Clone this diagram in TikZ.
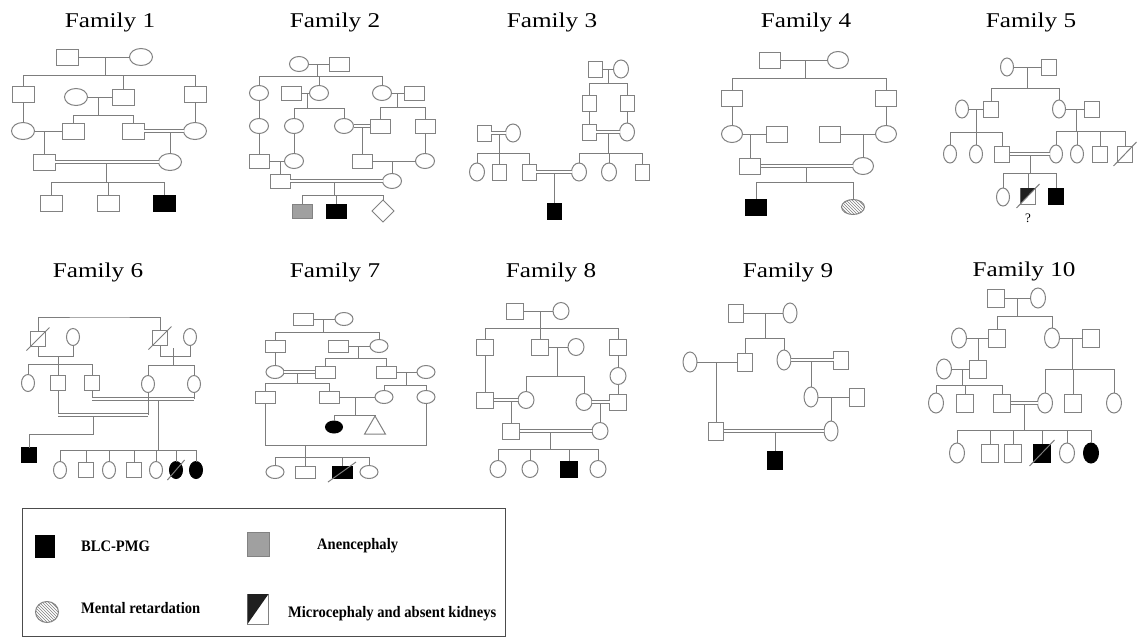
\documentclass[tikz,border=0pt]{standalone}
\usepackage{fontspec}
\setmainfont{Liberation Serif}
\newfontfamily\titlefont[FakeStretch=1.2]{Liberation Serif}
\newfontfamily\legfont[FakeStretch=0.91]{Liberation Serif}
\usetikzlibrary{shapes.geometric,patterns,calc}
\definecolor{lc}{RGB}{125,125,125}
\definecolor{sc}{RGB}{130,130,130}
\definecolor{gf}{RGB}{160,160,160}
\tikzset{
 ln/.style={draw=lc, line width=1pt},
 dbl/.style={draw=lc, double=white, double distance=2pt, line width=0.8pt},
 sym/.style={draw=sc, line width=1pt, inner sep=0pt, outer sep=0pt, fill=white},
 msz/.style={minimum width=22pt, minimum height=16pt},
 fsz/.style={minimum width=23pt, minimum height=17pt},
 M/.style={sym, rectangle, msz},
 F/.style={sym, ellipse, fsz},
 aff/.style={fill=black, draw=black},
 hat/.style={pattern=north west lines, pattern color=gray},
 ttl/.style={font=\titlefont\fontsize{21}{25}\selectfont, anchor=base, inner sep=0pt},
 lgt/.style={font=\legfont\bfseries\fontsize{16}{19}\selectfont, anchor=west, inner sep=0pt},
}
\newcommand\sib[3]{%
 \coordinate (#1j) at (#1 |- 0,#2);
 \draw[ln] (#1) -- (#1j);
 \foreach \chd in {#3}{\draw[ln] (\chd) |- (#1j);}
}
\newcommand\dec[1]{\draw[ln] ($(#1.south west)+(-4,4)$) -- ($(#1.north east)+(4,-4)$);}
\newcommand\half[1]{\fill[black!88] (#1.north west) -- (#1.north east) -- (#1.south west) -- cycle;}
\begin{document}
\begin{tikzpicture}[x=1pt,y=-1pt]
\useasboundingbox (0,0) rectangle (1137,638);
\fill[white] (0,0) rectangle (1137,638);
% titles
\node[ttl] (t1) at (110,27) {Family 1};
\node[ttl] (t2) at (335,27) {Family 2};
\node[ttl] (t3) at (552,27) {Family 3};
\node[ttl] (t4) at (806,27) {Family 4};
\node[ttl] (t5) at (1031,27) {Family 5};
\node[ttl] (t6) at (98,277) {Family 6};
\node[ttl] (t7) at (335,277) {Family 7};
\node[ttl] (t8) at (551,277) {Family 8};
\node[ttl] (t9) at (788,277) {Family 9};
\node[ttl] (t10) at (1024,276) {Family 10};

% ---------- Family 1
\begin{scope}[msz/.style={minimum width=22pt,minimum height=16pt}, fsz/.style={minimum width=23pt,minimum height=17pt}]
\node[M] (a1) at (67,57) {};
\node[F] (b1) at (141,57) {};
\node[M] (c1) at (23,94) {};
\node[M] (d1) at (123,97) {};
\node[M] (e1) at (195,94) {};
\node[F] (f1) at (76,97) {};
\node[M] (g1) at (73,131) {};
\node[M] (h1) at (133,131) {};
\node[F] (i1) at (23,131) {};
\node[F] (j1) at (195,131) {};
\node[M] (k1) at (44,162) {};
\node[F] (l1) at (170,162) {};
\node[M] (n11) at (51,203) {};
\node[M] (n12) at (108,203) {};
\node[M,aff] (n13) at (164,203) {};
\draw[ln] (a1) -- (b1);
\coordinate (m1a) at (105,57); \sib{m1a}{75}{c1,d1,e1}
\draw[ln] (f1) -- (d1);
\coordinate (m1b) at (98,97); \sib{m1b}{115}{g1,h1}
\draw[ln] (c1) -- (i1);
\draw[ln] (e1) -- (j1);
\draw[ln] (i1) -- (g1);
\coordinate (m1c) at (44,131); \draw[ln] (m1c) -- (k1);
\coordinate (m1d) at (170,131); \draw[ln] (m1d) -- (l1);
\coordinate (m1e) at (106,162); \sib{m1e}{182}{n11,n12,n13}
\draw[dbl] (h1) -- (j1);
\draw[dbl] (k1) -- (l1);
\end{scope}

% ---------- Family 2
\begin{scope}[msz/.style={minimum width=20pt,minimum height=14pt}, fsz/.style={minimum width=19pt,minimum height=15pt}]
\node[F] (a2) at (299,64) {};
\node[M] (b2) at (339,64) {};
\node[F] (c2) at (259,93) {};
\node[M] (d2) at (291,93) {};
\node[F] (e2) at (319,93) {};
\node[F] (f2) at (382,93) {};
\node[M] (g2) at (414,93) {};
\node[F] (h2) at (259,126) {};
\node[F] (i2) at (294,126) {};
\node[F] (j2) at (344,126) {};
\node[M] (k2) at (380,126) {};
\node[M] (l2) at (425,126) {};
\node[M] (p2) at (259,161) {};
\node[F] (q2) at (294,161) {};
\node[M] (r2) at (362,161) {};
\node[F] (s2) at (425,161) {};
\node[M] (t2) at (280,181) {};
\node[F] (u2) at (392,181) {};
\node[M,fill=gf] (v2) at (302,211) {};
\node[M,aff] (w2) at (336,211) {};
\node[sym,diamond,minimum width=22pt,minimum height=22pt] (x2) at (383,211) {};
\draw[ln] (a2) -- (b2);
\coordinate (m2a) at (317,64); \sib{m2a}{76}{c2,e2,f2}
\draw[ln] (d2) -- (e2);
\coordinate (m2b) at (307,93); \sib{m2b}{108}{i2,j2}
\draw[ln] (f2) -- (g2);
\coordinate (m2c) at (397,93); \sib{m2c}{107}{k2,l2}
\draw[ln] (c2) -- (h2); \draw[ln] (h2) -- (p2); \draw[ln] (i2) -- (q2); \draw[ln] (l2) -- (s2);
\draw[ln] (p2) -- (q2); \coordinate (m2d) at (280,161); \draw[ln] (m2d) -- (t2);
\coordinate (m2e) at (362,126); \draw[ln] (m2e) -- (r2);
\draw[ln] (r2) -- (s2); \coordinate (m2f) at (392,161); \draw[ln] (m2f) -- (u2);
\coordinate (m2g) at (334,181); \sib{m2g}{195}{v2,w2,x2}
\draw[dbl] (j2) -- (k2);
\draw[dbl] (t2) -- (u2);
\end{scope}

% ---------- Family 3
\begin{scope}[msz/.style={minimum width=14pt,minimum height=16pt}, fsz/.style={minimum width=15pt,minimum height=18pt}]
\node[M] (a3) at (595,69) {};
\node[F] (b3) at (621,69) {};
\node[M] (c3) at (589,103) {};
\node[M] (d3) at (627,103) {};
\node[M] (e3) at (589,132) {};
\node[F] (f3) at (627,132) {};
\node[F] (g3) at (579,172) {};
\node[F] (h3) at (609,172) {};
\node[M] (i3) at (642,172) {};
\node[M] (j3) at (484,133) {};
\node[F] (k3) at (513,133) {};
\node[F] (l3) at (477,172) {};
\node[M] (n3) at (499,172) {};
\node[M] (o3) at (529,172) {};
\node[M,aff] (p3) at (554,211) {};
\draw[ln] (a3) -- (b3); \coordinate (m3a) at (608,69); \sib{m3a}{83}{c3,d3}
\draw[ln] (c3) -- (e3); \draw[ln] (d3) -- (f3);
\coordinate (m3b) at (608,132); \sib{m3b}{153}{g3,h3,i3}
\coordinate (m3c) at (499,133); \sib{m3c}{153}{l3,n3,o3}
\coordinate (m3d) at (554,172); \draw[ln] (m3d) -- (p3);
\draw[dbl] (e3) -- (f3);
\draw[dbl] (j3) -- (k3);
\draw[dbl] (o3) -- (g3);
\end{scope}

% ---------- Family 4
\begin{scope}[msz/.style={minimum width=21pt,minimum height=16pt}, fsz/.style={minimum width=21pt,minimum height=17pt}]
\node[M] (a4) at (770,60) {};
\node[F] (b4) at (838,60) {};
\node[M] (c4) at (732,98) {};
\node[M] (d4) at (886,98) {};
\node[F] (e4) at (732,134) {};
\node[M] (f4) at (777,134) {};
\node[M] (g4) at (830,134) {};
\node[F] (h4) at (886,134) {};
\node[M] (i4) at (750,166) {};
\node[F] (j4) at (863,166) {};
\node[M,aff] (k4) at (756,207) {};
\node[sym,ellipse,hat,minimum width=23pt,minimum height=15pt] (l4) at (853,207) {};
\draw[ln] (a4) -- (b4); \coordinate (m4a) at (805,60); \sib{m4a}{78}{c4,d4}
\draw[ln] (c4) -- (e4); \draw[ln] (d4) -- (h4);
\draw[ln] (e4) -- (f4); \coordinate (m4b) at (750,134); \draw[ln] (m4b) -- (i4);
\draw[ln] (g4) -- (h4); \coordinate (m4c) at (863,134); \draw[ln] (m4c) -- (j4);
\coordinate (m4d) at (806,166); \sib{m4d}{182}{k4,l4}
\draw[dbl] (i4) -- (j4);
\end{scope}

% ---------- Family 5
\begin{scope}[msz/.style={minimum width=15pt,minimum height=16pt}, fsz/.style={minimum width=13pt,minimum height=18pt}]
\node[F] (a5) at (1007,67) {};
\node[M] (b5) at (1049,67) {};
\node[F] (c5) at (962,109) {};
\node[M] (d5) at (991,109) {};
\node[F] (e5) at (1059,109) {};
\node[M] (f5) at (1092,109) {};
\node[F] (g5) at (950,154) {};
\node[F] (h5) at (976,154) {};
\node[M] (i5) at (1002,154) {};
\node[F] (j5) at (1056,154) {};
\node[F] (k5) at (1077,154) {};
\node[M] (l5) at (1100,154) {};
\node[M] (n5) at (1125,154) {};
\node[F] (o5) at (1003,197) {};
\node[M] (p5) at (1028,196) {};
\node[M,aff] (q5) at (1056,196) {};
\node[font=\fontsize{13}{15}\selectfont, inner sep=0pt] (qm5) at (1028,218) {?};
\draw[ln] (a5) -- (b5); \coordinate (m5a) at (1027,67); \sib{m5a}{88}{d5,e5}
\draw[ln] (c5) -- (d5); \coordinate (m5b) at (976,109); \sib{m5b}{132}{g5,h5,i5}
\draw[ln] (e5) -- (f5); \coordinate (m5c) at (1076,109); \sib{m5c}{131}{j5,k5,l5,n5}
\coordinate (m5d) at (1030,154); \sib{m5d}{173}{o5,p5,q5}
\draw[dbl] (i5) -- (j5);
\dec{n5}
\half{p5}
\dec{p5}
\end{scope}

% ---------- Family 6
\begin{scope}[msz/.style={minimum width=15pt,minimum height=15pt}, fsz/.style={minimum width=13pt,minimum height=17pt}]
\node[M] (a6) at (38,339) {};
\node[F] (b6) at (73,337) {};
\node[M] (c6) at (160,338) {};
\node[F] (d6) at (190,337) {};
\node[F] (e6) at (28,383) {};
\node[M] (f6) at (58,383) {};
\node[M] (g6) at (92,383) {};
\node[F] (h6) at (148,384) {};
\node[F] (i6) at (194,384) {};
\node[M,aff] (j6) at (29,455) {};
\node[F] (k6) at (60,470) {};
\node[M] (l6) at (86,470) {};
\node[F] (n6) at (109,470) {};
\node[M] (o6) at (134,470) {};
\node[F] (p6) at (156,470) {};
\node[F,aff] (q6) at (176,470) {};
\node[F,aff] (r6) at (196,470) {};
\coordinate (tt6) at (100,317); \draw[ln] (a6) |- (tt6) -| (c6);
\coordinate (u6) at (58,356); \draw[ln] (a6) |- (u6); \draw[ln] (b6) |- (u6); \sib{u6}{364}{e6,f6,g6}
\coordinate (v6) at (173,356); \draw[ln] (c6) |- (v6); \draw[ln] (d6) |- (v6);
\coordinate (v6t) at (173,348); \draw[ln] (v6t) -- (v6); \sib{v6}{365}{h6,i6}
\coordinate (w6l) at (58,415); \coordinate (w6r) at (148,415);
\coordinate (w6) at (93,415); \coordinate (w6b) at (93,434);
\draw[ln] (f6) -- (w6l);
\draw[ln] (w6) -- (w6b) -| (j6);
\coordinate (x6l) at (92,399); \coordinate (x6r) at (194,399); \coordinate (x6) at (158,399);
\draw[ln] (g6) -- (x6l); \draw[ln] (i6) -- (x6r);
\sib{x6}{450}{k6,l6,n6,o6,p6,q6,r6}
\draw[dbl] (w6l) -- (w6r);
\draw[dbl] (x6l) -- (x6r);
\draw[ln] (h6) -- (w6r);
\dec{a6} \dec{c6} \dec{q6}
\end{scope}

% ---------- Family 7
\begin{scope}[msz/.style={minimum width=20pt,minimum height=12pt}, fsz/.style={minimum width=18pt,minimum height=13pt}]
\node[M] (a7) at (303,319) {};
\node[F] (b7) at (344,319) {};
\node[M] (c7) at (275,346) {};
\node[M] (d7) at (338,346) {};
\node[F] (e7) at (379,346) {};
\node[F] (f7) at (275,372) {};
\node[M] (g7) at (325,372) {};
\node[M] (h7) at (386,372) {};
\node[F] (i7) at (426,372) {};
\node[M] (j7) at (265,397) {};
\node[M] (k7) at (329,397) {};
\node[F] (l7) at (384,397) {};
\node[F] (n7) at (426,397) {};
\node[F,aff,minimum width=17pt,minimum height=12pt] (o7) at (334,427) {};
\node[sym,regular polygon,regular polygon sides=3,minimum size=24pt] (p7) at (375,428) {};
\node[F] (q7) at (275,472) {};
\node[M] (r7) at (305,472) {};
\node[M,aff] (s7) at (342,472) {};
\node[F] (t7) at (369,472) {};
\draw[ln] (a7) -- (b7); \coordinate (m7a) at (323,319); \sib{m7a}{332}{c7,e7}
\draw[ln] (d7) -- (e7); \coordinate (m7b) at (358,346); \sib{m7b}{358}{g7,h7}
\draw[ln] (c7) -- (f7);
\coordinate (m7c) at (297,372); \sib{m7c}{383}{j7,k7}
\draw[ln] (h7) -- (i7); \coordinate (m7d) at (406,372); \sib{m7d}{385}{l7,n7}
\draw[ln] (k7) -- (l7); \coordinate (m7e) at (355,397); \sib{m7e}{415}{o7,p7}
\coordinate (z7) at (305,445); \draw[ln] (j7) |- (z7); \draw[ln] (n7) |- (z7);
\sib{z7}{457}{q7,r7,s7,t7}
\draw[dbl] (f7) -- (g7);
\dec{s7}
\end{scope}

% ---------- Family 8
\begin{scope}[msz/.style={minimum width=17pt,minimum height=16pt}, fsz/.style={minimum width=16pt,minimum height=17pt}]
\node[M] (a8) at (515,311) {};
\node[F] (b8) at (561,311) {};
\node[M] (c8) at (485,347) {};
\node[M] (d8) at (540,347) {};
\node[F] (e8) at (576,347) {};
\node[M] (f8) at (618,347) {};
\node[F] (g8) at (618,376) {};
\node[M] (h8) at (485,400) {};
\node[F] (i8) at (526,400) {};
\node[F] (j8) at (584,402) {};
\node[M] (k8) at (618,402) {};
\node[M] (l8) at (511,431) {};
\node[F] (n8) at (600,431) {};
\node[F] (o8) at (498,469) {};
\node[F] (p8) at (530,469) {};
\node[M,aff] (q8) at (569,469) {};
\node[F] (r8) at (598,469) {};
\draw[ln] (a8) -- (b8); \coordinate (m8a) at (540,311); \sib{m8a}{328}{c8,d8,f8}
\draw[ln] (d8) -- (e8); \coordinate (m8b) at (557,347); \sib{m8b}{376}{i8,j8}
\draw[ln] (c8) -- (h8); \draw[ln] (f8) -- (g8); \draw[ln] (g8) -- (k8);
\coordinate (m8c) at (511,400); \draw[ln] (m8c) -- (l8);
\coordinate (m8d) at (600,402); \draw[ln] (m8d) -- (n8);
\coordinate (m8e) at (550,431); \sib{m8e}{449}{o8,p8,q8,r8}
\draw[dbl] (h8) -- (i8);
\draw[dbl] (j8) -- (k8);
\draw[dbl] (l8) -- (n8);
\end{scope}

% ---------- Family 9
\begin{scope}[msz/.style={minimum width=15pt,minimum height=18pt}, fsz/.style={minimum width=14pt,minimum height=20pt}]
\node[M] (a9) at (736,313) {};
\node[F] (b9) at (790,313) {};
\node[F] (c9) at (690,362) {};
\node[M] (d9) at (745,362) {};
\node[F] (e9) at (784,360) {};
\node[M] (f9) at (841,360) {};
\node[F] (g9) at (811,397) {};
\node[M] (h9) at (857,397) {};
\node[M] (i9) at (716,431) {};
\node[F] (j9) at (831,431) {};
\node[M,aff] (k9) at (775,460) {};
\draw[ln] (a9) -- (b9); \coordinate (m9a) at (765,313); \sib{m9a}{338}{d9,e9}
\draw[ln] (c9) -- (d9); \coordinate (m9b) at (716,362); \draw[ln] (m9b) -- (i9);
\coordinate (m9c) at (811,360); \draw[ln] (m9c) -- (g9);
\draw[ln] (g9) -- (h9); \coordinate (m9d) at (831,397); \draw[ln] (m9d) -- (j9);
\coordinate (m9e) at (775,431); \draw[ln] (m9e) -- (k9);
\draw[dbl] (e9) -- (f9);
\draw[dbl] (i9) -- (j9);
\end{scope}

% ---------- Family 10
\begin{scope}[msz/.style={minimum width=17pt,minimum height=18pt}, fsz/.style={minimum width=15pt,minimum height=20pt}]
\node[M] (a10) at (996,298) {};
\node[F] (b10) at (1038,298) {};
\node[F] (c10) at (959,338) {};
\node[M] (d10) at (997,338) {};
\node[F] (e10) at (1052,338) {};
\node[M] (f10) at (1091,338) {};
\node[F] (g10) at (944,369) {};
\node[M] (h10) at (978,369) {};
\node[F] (i10) at (936,403) {};
\node[M] (j10) at (965,403) {};
\node[M] (k10) at (1002,403) {};
\node[F] (l10) at (1045,403) {};
\node[M] (n10) at (1073,403) {};
\node[F] (o10) at (1114,403) {};
\node[F] (p10) at (957,453) {};
\node[M] (q10) at (990,453) {};
\node[M] (r10) at (1013,453) {};
\node[M,aff] (s10) at (1042,453) {};
\node[F] (t10) at (1067,453) {};
\node[F,aff] (u10) at (1091,453) {};
\draw[ln] (a10) -- (b10); \coordinate (m10a) at (1017,298); \sib{m10a}{316}{d10,e10}
\draw[ln] (c10) -- (d10); \coordinate (m10b) at (978,338); \draw[ln] (m10b) -- (h10);
\draw[ln] (g10) -- (h10); \coordinate (m10c) at (962,369); \sib{m10c}{385}{i10,j10,k10}
\draw[ln] (e10) -- (f10); \coordinate (m10d) at (1072,338); \sib{m10d}{369}{l10,n10,o10}
\coordinate (m10e) at (1024,403); \sib{m10e}{430}{p10,q10,r10,s10,t10,u10}
\draw[dbl] (k10) -- (l10);
\dec{s10}
\end{scope}

% ---------- Legend
\node[draw=black!70, line width=1pt, inner sep=0pt, minimum width=483pt, minimum height=128pt] (lg) at (263.5,572) {};
\node[M,aff,minimum width=19pt,minimum height=22pt] (lgA) at (45,546) {};
\node[lgt] (lgAt) at (81,546) {BLC-PMG};
\node[M,fill=gf,minimum width=22pt,minimum height=24pt] (lgB) at (258,544) {};
\node[lgt] (lgBt) at (317,546) {Anencephaly};
\node[sym,ellipse,hat,minimum width=23pt,minimum height=21pt] (lgC) at (47,612) {};
\node[lgt] (lgCt) at (81,608) {Mental retardation};
\node[M,minimum width=21pt,minimum height=30pt] (lgD) at (258,609) {};
\half{lgD}
\node[lgt] (lgDt) at (288,614) {Microcephaly and absent kidneys};
\end{tikzpicture}
\end{document}
